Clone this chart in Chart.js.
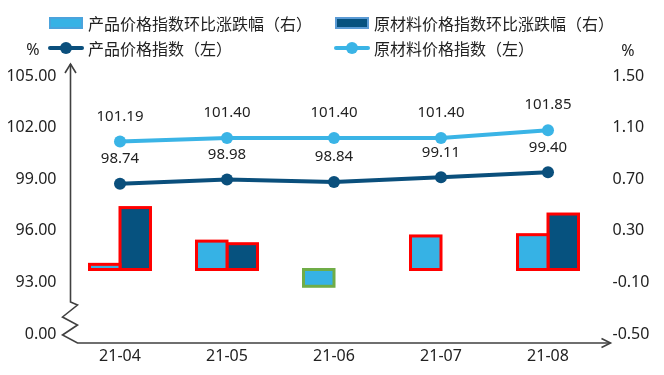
<!DOCTYPE html>
<html>
<head>
<meta charset="utf-8">
<script src="https://cdn.jsdelivr.net/npm/chart.js@4"></script>
<style>
html,body{margin:0;padding:0;background:#fff;}
#wrap{width:664px;height:375px;position:relative;}
</style>
</head>
<body>
<div id="wrap"><canvas id="c" width="664" height="375"></canvas></div>
<script>
// ---- data ----
const categories = ['21-04', '21-05', '21-06', '21-07', '21-08'];
const productChange = [0.04, 0.22, -0.13, 0.26, 0.27];
const materialChange = [0.48, 0.20, null, null, 0.43];
const productIndex = [98.74, 98.98, 98.84, 99.11, 99.40];
const materialIndex = [101.19, 101.40, 101.40, 101.40, 101.85];
const leftTicks = [90, 93, 96, 99, 102, 105];
const leftTickLabels = ['0.00', '93.00', '96.00', '99.00', '102.00', '105.00'];
const rightTicks = [-0.5, -0.1, 0.3, 0.7, 1.1, 1.5];
const rightTickLabels = ['-0.50', '-0.10', '0.30', '0.70', '1.10', '1.50'];
const seriesNames = ['产品价格指数环比涨跌幅（右）', '原材料价格指数环比涨跌幅（右）', '产品价格指数（左）', '原材料价格指数（左）'];
const axisUnit = '%';

const LIGHT = '#36B2E5';
const DARK = '#06527F';
const NUM_FONT = "'Noto Sans', 'Noto Sans CJK SC', sans-serif";
const CJK_FONT = "'Noto Sans CJK SC', 'Noto Sans', sans-serif";
const TXT = '#222222';
const AXIS = '#404040';

const barBorderPlugin = {
  id: 'barBorders',
  afterDatasetDraw(chart, args) {
    const ds = chart.data.datasets[args.index];
    if (ds.type !== 'bar') return;
    const ctx = chart.ctx;
    ctx.save();
    ctx.lineWidth = 3;
    ctx.lineJoin = 'miter';
    args.meta.data.forEach((el, i) => {
      const v = ds.data[i];
      if (v === null || v === undefined) return;
      const p = el.getProps(['x', 'y', 'base', 'width'], true);
      ctx.strokeStyle = ds.edgeColors[i];
      const top = Math.min(p.y, p.base), h = Math.abs(p.base - p.y);
      ctx.strokeRect(p.x - p.width / 2, top, p.width, h);
    });
    ctx.restore();
  }
};

const pointLabelPlugin = {
  id: 'pointLabels',
  afterDatasetsDraw(chart) {
    const ctx = chart.ctx;
    ctx.save();
    ctx.font = '15px ' + NUM_FONT;
    ctx.fillStyle = TXT;
    ctx.textAlign = 'center';
    ctx.textBaseline = 'middle';
    chart.data.datasets.forEach((ds, di) => {
      if (ds.type !== 'line') return;
      chart.getDatasetMeta(di).data.forEach((pt, i) => {
        ctx.fillText(ds.data[i].toFixed(2), pt.x, pt.y - 25);
      });
    });
    ctx.restore();
  }
};

const axesPlugin = {
  id: 'brokenAxes',
  afterDraw(chart) {
    const ctx = chart.ctx;
    const a = chart.chartArea;
    const x0 = a.left + 4;
    const yb = a.bottom + 9;
    ctx.save();
    ctx.strokeStyle = AXIS;
    ctx.lineWidth = 1.6;
    ctx.lineJoin = 'miter';
    ctx.beginPath();
    ctx.moveTo(x0, a.top - 12);
    ctx.lineTo(x0, a.bottom - 32);
    ctx.lineTo(x0 + 7, a.bottom - 29);
    ctx.lineTo(x0 - 8, a.bottom - 17);
    ctx.lineTo(x0 + 7, a.bottom - 9);
    ctx.lineTo(x0 - 8, a.bottom + 1);
    ctx.lineTo(x0 + 7, yb);
    ctx.lineTo(a.right + 9, yb);
    ctx.stroke();
    // top arrow
    ctx.beginPath();
    ctx.moveTo(x0 - 5.5, a.top - 3);
    ctx.lineTo(x0, a.top - 12);
    ctx.lineTo(x0 + 5.5, a.top - 3);
    ctx.stroke();
    // right arrow
    ctx.beginPath();
    ctx.moveTo(a.right, yb - 4.5);
    ctx.lineTo(a.right + 9, yb);
    ctx.lineTo(a.right, yb + 4.5);
    ctx.stroke();
    // unit labels
    ctx.fillStyle = TXT;
    ctx.font = '16px ' + NUM_FONT;
    ctx.textAlign = 'center';
    ctx.textBaseline = 'middle';
    ctx.fillText(axisUnit, 33, 50);
    ctx.fillText(axisUnit, 628, 51);
    ctx.restore();
  }
};

const legendPlugin = {
  id: 'customLegend',
  afterDraw(chart) {
    const ctx = chart.ctx;
    const cols = [49, 335];
    const rows = [23, 48];
    ctx.save();
    ctx.font = '16px ' + CJK_FONT;
    ctx.textBaseline = 'middle';
    ctx.textAlign = 'left';
    chart.data.datasets.forEach((ds, i) => {
      const col = i % 2, row = Math.floor(i / 2);
      const x = cols[col], y = rows[row];
      if (ds.type === 'bar') {
        ctx.fillStyle = ds.backgroundColor;
        ctx.fillRect(x, y - 6, 34, 12);
        ctx.strokeStyle = ds.legendEdge;
        ctx.lineWidth = 2;
        ctx.strokeRect(x + 1, y - 5, 32, 10);
      } else {
        ctx.strokeStyle = ds.borderColor;
        ctx.lineWidth = 4;
        ctx.lineCap = 'round';
        ctx.beginPath();
        ctx.moveTo(x + 1, y);
        ctx.lineTo(x + 33, y);
        ctx.stroke();
        ctx.fillStyle = ds.borderColor;
        ctx.beginPath();
        ctx.arc(x + 17, y, 6, 0, Math.PI * 2);
        ctx.fill();
      }
      ctx.fillStyle = TXT;
      ctx.fillText(ds.label, x + 39, y + 1);
    });
    ctx.restore();
  }
};

function build() {
  new Chart(document.getElementById('c'), {
    data: {
      labels: categories,
      datasets: [
        { type: 'bar', label: seriesNames[0], data: productChange, yAxisID: 'yR',
          backgroundColor: LIGHT, borderWidth: 0, legendEdge: '#4BA3DC',
          edgeColors: ['#FF0000', '#FF0000', '#70AD47', '#FF0000', '#FF0000'],
          order: 2, barPercentage: 1, categoryPercentage: 0.57 },
        { type: 'bar', label: seriesNames[1], data: materialChange, yAxisID: 'yR',
          backgroundColor: DARK, borderWidth: 0, legendEdge: '#5B9BD5',
          edgeColors: ['#FF0000', '#FF0000', '#FF0000', '#FF0000', '#FF0000'],
          order: 2, barPercentage: 1, categoryPercentage: 0.57 },
        { type: 'line', label: seriesNames[2], data: productIndex, yAxisID: 'yL',
          borderColor: '#0A4F7C', backgroundColor: '#0A4F7C', borderWidth: 4,
          pointRadius: 6, pointBorderWidth: 0, pointBackgroundColor: '#0A4F7C',
          tension: 0, order: 1 },
        { type: 'line', label: seriesNames[3], data: materialIndex, yAxisID: 'yL',
          borderColor: '#3AB4E6', backgroundColor: '#3AB4E6', borderWidth: 4,
          pointRadius: 6, pointBorderWidth: 0, pointBackgroundColor: '#3AB4E6',
          tension: 0, order: 1 }
      ]
    },
    options: {
      responsive: false,
      animation: false,
      events: [],
      layout: { padding: { top: 76, left: 0, right: 0, bottom: 0 } },
      plugins: { legend: { display: false }, tooltip: { enabled: false } },
      scales: {
        x: {
          type: 'category',
          offset: true,
          grid: { display: false, drawTicks: false },
          border: { display: false },
          ticks: { font: { size: 16, family: NUM_FONT }, color: TXT, padding: 13, maxRotation: 0 },
          afterFit(s) { s.height = 41; }
        },
        yL: {
          type: 'linear', position: 'left', min: 90, max: 105,
          grid: { display: false, drawTicks: false },
          border: { display: false },
          afterBuildTicks(s) { s.ticks = leftTicks.map(v => ({ value: v })); },
          ticks: {
            font: { size: 16, family: NUM_FONT }, color: TXT, padding: 10,
            callback: (v) => leftTickLabels[leftTicks.indexOf(v)]
          },
          afterFit(s) { s.width = 66.5; }
        },
        yR: {
          type: 'linear', position: 'right', min: -0.5, max: 1.5,
          grid: { display: false, drawTicks: false },
          border: { display: false },
          afterBuildTicks(s) { s.ticks = rightTicks.map(v => ({ value: v })); },
          ticks: {
            font: { size: 16, family: NUM_FONT }, color: TXT, padding: 11,
            callback: (v) => { const k = rightTicks.findIndex(t => Math.abs(t - v) < 1e-9); return rightTickLabels[k]; }
          },
          afterFit(s) { s.width = 62.5; }
        }
      }
    },
    plugins: [barBorderPlugin, pointLabelPlugin, axesPlugin, legendPlugin]
  });
}

const fontLoads = [
  document.fonts.load("16px 'Noto Sans'"),
  document.fonts.load("16px 'Noto Sans CJK SC'", '产品价格')
];
Promise.race([Promise.all(fontLoads), new Promise(r => setTimeout(r, 800))]).then(build, build);
</script>
</body>
</html>
